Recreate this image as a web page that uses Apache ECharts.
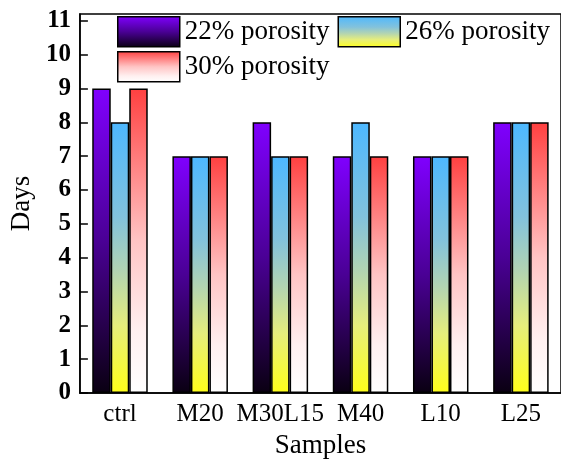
<!DOCTYPE html>
<html>
<head>
<meta charset="utf-8">
<script src="https://cdn.jsdelivr.net/npm/echarts@6/dist/echarts.min.js"></script>
<style>html,body{margin:0;padding:0;background:#fff;}#c{width:561px;height:464px;}</style>
</head>
<body>
<div id="c"></div>
<script>
var categories = ['ctrl', 'M20', 'M30L15', 'M40', 'L10', 'L25'];
var seriesNames = ['22% porosity', '26% porosity', '30% porosity'];
var porosity22 = [9, 7, 8, 7, 7, 8];
var porosity26 = [8, 7, 7, 8, 7, 8];
var porosity30 = [9, 7, 7, 7, 7, 8];
var yTicks = [0, 1, 2, 3, 4, 5, 6, 7, 8, 9, 10, 11];

var FONT = '"Liberation Serif", "Times New Roman", serif';
function grad(stops) {
  return new echarts.graphic.LinearGradient(0, 0, 0, 1, stops.map(function (s) { return { offset: s[0], color: s[1] }; }));
}
var fills = [
  grad([[0, '#8000FF'], [0.5, '#4A0095'], [1, '#0A0012']]),
  grad([[0, '#4DB8FF'], [0.35, '#82C2DC'], [0.55, '#B2D4B2'], [0.75, '#E6EE7C'], [1, '#FFFF1A']]),
  grad([[0, '#FF4040'], [0.5, '#FFC4C4'], [0.8, '#FFF0F0'], [1, '#FFFFFF']])
];
var values = [porosity22, porosity26, porosity30];

var chart = echarts.init(document.getElementById('c'), null, { renderer: 'canvas' });
var legendCommon = {
  itemWidth: 62, itemHeight: 30, itemGap: 8, icon: 'rect', padding: 0,
  textStyle: { fontFamily: FONT, fontSize: 27, color: '#000' }
};
chart.setOption({
  animation: false,
  backgroundColor: '#fff',
  grid: { left: 78, right: -3, top: 14, bottom: 69, show: true, borderColor: '#000', borderWidth: 1.5, backgroundColor: 'transparent' },
  legend: [
    Object.assign({}, legendCommon, { left: 117, top: 16, data: [
      { name: seriesNames[0], itemStyle: { color: fills[0], borderColor: '#000', borderWidth: 1.5 } },
      { name: seriesNames[1], itemStyle: { color: fills[1], borderColor: '#000', borderWidth: 1.5 } }
    ] }),
    Object.assign({}, legendCommon, { left: 117, top: 51, data: [
      { name: seriesNames[2], itemStyle: { color: fills[2], borderColor: '#000', borderWidth: 1.5 } }
    ] })
  ],
  xAxis: {
    type: 'category', data: categories,
    name: 'Samples', nameLocation: 'middle', nameGap: 39,
    nameTextStyle: { fontFamily: FONT, fontSize: 27, color: '#000' },
    axisLine: { lineStyle: { color: '#000', width: 1.5 } },
    axisTick: { show: false },
    axisLabel: { fontFamily: FONT, fontSize: 25, color: '#000', margin: 9, interval: 0, hideOverlap: false }
  },
  yAxis: {
    type: 'value', min: 0, max: 11.2, interval: 1,
    name: 'Days', nameLocation: 'middle', nameGap: 39,
    nameTextStyle: { fontFamily: FONT, fontSize: 27, color: '#000' },
    axisLine: { show: true, lineStyle: { color: '#000', width: 1.5 } },
    axisTick: { show: true, inside: true, length: 8, lineStyle: { color: '#000', width: 1.5 } },
    axisLabel: { fontFamily: FONT, fontSize: 25, fontWeight: 'bold', color: '#000', margin: 9, showMaxLabel: false,
      formatter: function (v) { return yTicks.indexOf(v) >= 0 ? String(v) : ''; } },
    splitLine: { show: false }
  },
  series: values.map(function (vals, i) {
    return {
      type: 'bar', name: seriesNames[i], data: vals,
      barWidth: 18.5, barGap: '0%',
      itemStyle: { color: fills[i], borderColor: '#000', borderWidth: 1.5 }
    };
  })
});
</script>
</body>
</html>
